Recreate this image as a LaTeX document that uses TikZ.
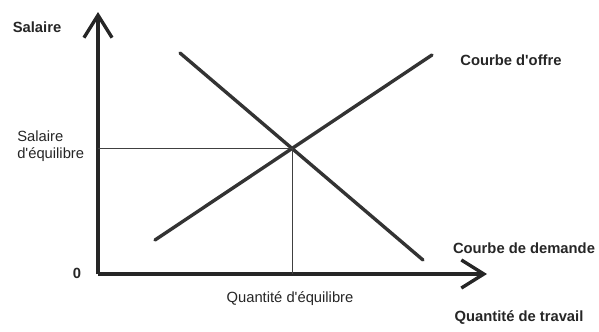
\documentclass[tikz,border=0pt]{standalone}
\usepackage{fontspec}
\setmainfont{Liberation Sans}
\usepackage{tikz}
\usetikzlibrary{arrows.meta,positioning}

\begin{document}
\begin{tikzpicture}[
    x=0.025cm, y=0.025cm,
    axis/.style={
        draw=black!85,
        line width=2.7pt,
        -{Straight Barb[length=16pt,width=20pt,line width=2.4pt]}
    },
    curve/.style={
        draw=black!80,
        line width=2.4pt,
        line cap=round
    },
    guide/.style={
        draw=black!75,
        line width=0.6pt
    },
    lab/.style={
        font=\fontsize{10.5}{12}\selectfont,
        text=black!85,
        inner sep=0pt,
        align=left
    },
    blab/.style={
        font=\fontsize{10.5}{12}\selectfont\bfseries,
        text=black!85,
        inner sep=0pt
    }
]
\useasboundingbox (0,0) rectangle (599,331);

% axes
\coordinate (origin) at (98,57);
\coordinate (ytip) at (98,319);
\coordinate (xtip) at (487,57);
\draw[axis] (origin) -- (ytip);
\draw[axis] (origin) -- (xtip);

% supply and demand curves
\coordinate (s1) at (155,91);
\coordinate (s2) at (432,276);
\coordinate (d1) at (180,278);
\coordinate (d2) at (423,71);
\draw[curve] (s1) -- (s2);
\draw[curve] (d1) -- (d2);

% equilibrium point and guides
\coordinate (eq) at (intersection of s1--s2 and d1--d2);
\coordinate (eqy) at (origin |- eq);
\coordinate (eqx) at (eq |- origin);
\draw[guide] (eqy) -- (eq) -- (eqx);

% labels
\node[blab] (ylabel) at (37,304) {Salaire};
\node[lab, anchor=west] (wage) at (17,185) {Salaire\\d\textquotesingle équilibre};
\node[blab] (zero) at (77,58) {0};
\node[lab] (qty) at (290,32) {Quantité d\textquotesingle équilibre};
\node[blab] (offre) at (511,271) {Courbe d\textquotesingle offre};
\node[blab] (demande) at (524,83) {Courbe de demande};
\node[blab] (xlabel) at (519,13) {Quantité de travail};

\end{tikzpicture}
\end{document}
